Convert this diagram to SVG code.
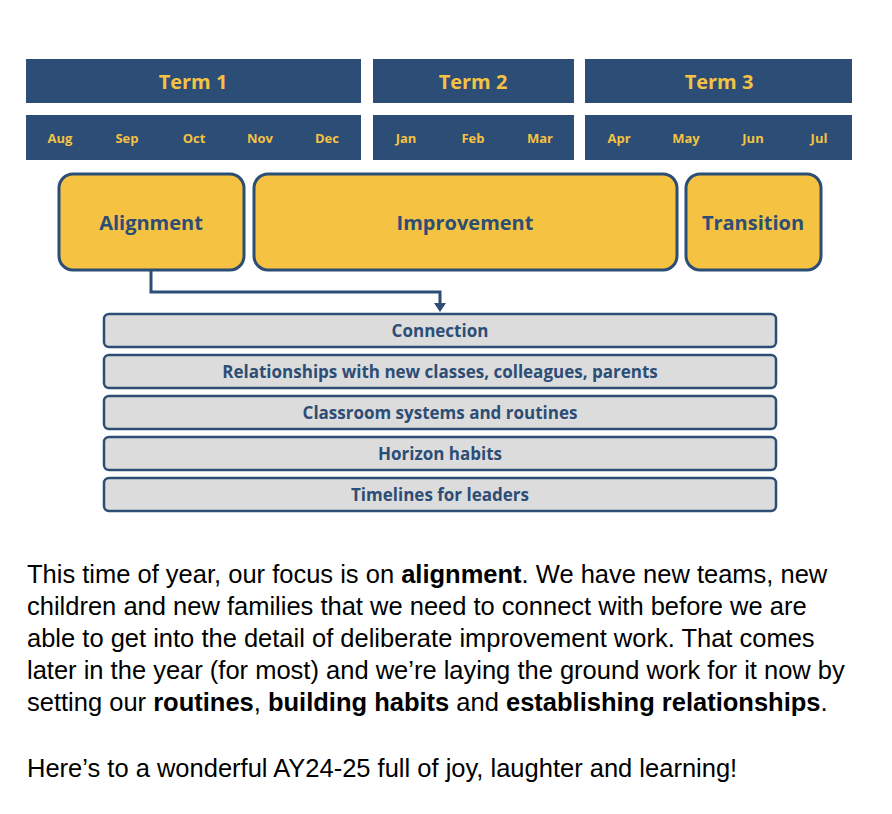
<svg xmlns="http://www.w3.org/2000/svg" width="892" height="814" viewBox="0 0 892 814">
<style>
.term{fill:#2c4d75}
.tt{font-family:"Open Sans","Liberation Sans",sans-serif;font-weight:bold;fill:#f5c242;text-anchor:middle}
.ph{fill:#f5c242;stroke:#2c4d75;stroke-width:3}
.pt{font-family:"Open Sans","Liberation Sans",sans-serif;font-weight:bold;fill:#2c4d75;font-size:20px;text-anchor:middle}
.bar{fill:#dcdcdc;stroke:#2c4d75;stroke-width:2.5}
.bt{font-family:"Open Sans","Liberation Sans",sans-serif;font-weight:bold;fill:#2c4d75;font-size:17px;text-anchor:middle}
.body{font-family:"Liberation Sans",Arial,sans-serif;font-size:25.5px;fill:#000}
</style>
<rect width="892" height="814" fill="#fff"/>
<g id="terms">
<rect class="term" x="26" y="59" width="335" height="44"/>
<rect class="term" x="373" y="59" width="201" height="44"/>
<rect class="term" x="585" y="59" width="267" height="44"/>
<text class="tt" x="193" y="89" font-size="20">Term 1</text>
<text class="tt" x="473" y="89" font-size="20">Term 2</text>
<text class="tt" x="719" y="89" font-size="20">Term 3</text>
</g>
<g id="months">
<rect class="term" x="26" y="115" width="335" height="45"/>
<rect class="term" x="373" y="115" width="201" height="45"/>
<rect class="term" x="585" y="115" width="267" height="45"/>
<text class="tt" x="60" y="143" font-size="13">Aug</text>
<text class="tt" x="127" y="143" font-size="13">Sep</text>
<text class="tt" x="194" y="143" font-size="13">Oct</text>
<text class="tt" x="260" y="143" font-size="13">Nov</text>
<text class="tt" x="327" y="143" font-size="13">Dec</text>
<text class="tt" x="406" y="143" font-size="13">Jan</text>
<text class="tt" x="473" y="143" font-size="13">Feb</text>
<text class="tt" x="540" y="143" font-size="13">Mar</text>
<text class="tt" x="619" y="143" font-size="13">Apr</text>
<text class="tt" x="686" y="143" font-size="13">May</text>
<text class="tt" x="753" y="143" font-size="13">Jun</text>
<text class="tt" x="819" y="143" font-size="13">Jul</text>
</g>
<g id="alignment"><rect class="ph" x="59" y="174" width="185" height="96" rx="14"/><text class="pt" x="151" y="230">Alignment</text></g>
<g id="improvement"><rect class="ph" x="254" y="174" width="423" height="96" rx="14"/><text class="pt" x="465" y="230">Improvement</text></g>
<g id="transition"><rect class="ph" x="686" y="174" width="135" height="96" rx="14"/><text class="pt" x="753" y="230">Transition</text></g>
<g id="connectors">
<path d="M151 270 V292 H440 V305" fill="none" stroke="#2c4d75" stroke-width="3"/>
<path d="M434 303 L446 303 L440 312 Z" fill="#2c4d75"/>
</g>
<g id="bar1"><rect class="bar" x="104" y="314" width="672" height="33" rx="5"/><text class="bt" x="440" y="337">Connection</text></g>
<g id="bar2"><rect class="bar" x="104" y="355" width="672" height="33" rx="5"/><text class="bt" x="440" y="378">Relationships with new classes, colleagues, parents</text></g>
<g id="bar3"><rect class="bar" x="104" y="396" width="672" height="33" rx="5"/><text class="bt" x="440" y="419">Classroom systems and routines</text></g>
<g id="bar4"><rect class="bar" x="104" y="437" width="672" height="33" rx="5"/><text class="bt" x="440" y="460">Horizon habits</text></g>
<g id="bar5"><rect class="bar" x="104" y="478" width="672" height="33" rx="5"/><text class="bt" x="440" y="501">Timelines for leaders</text></g>
<g id="text" xml:space="preserve">
<text class="body" x="27" y="583">This time of year, our focus is on <tspan font-weight="bold">alignment</tspan>.  We have new teams, new</text>
<text class="body" x="27" y="615">children and new families that we need to connect with before we are</text>
<text class="body" x="27" y="647">able to get into the detail of deliberate improvement work.  That comes</text>
<text class="body" x="27" y="679">later in the year (for most) and we’re laying the ground work for it now by</text>
<text class="body" x="27" y="711">setting our <tspan font-weight="bold">routines</tspan>, <tspan font-weight="bold">building habits</tspan> and <tspan font-weight="bold">establishing relationships</tspan>.</text>
<text class="body" x="27" y="777">Here’s to a wonderful AY24-25 full of joy, laughter and learning!</text>
</g>
</svg>
